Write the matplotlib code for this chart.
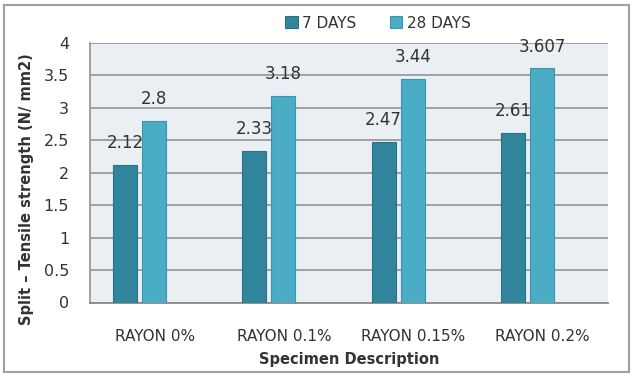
import matplotlib
matplotlib.use("Agg")
import matplotlib.pyplot as plt
from matplotlib.patches import Rectangle
import numpy as np

categories = ["RAYON 0%", "RAYON 0.1%", "RAYON 0.15%", "RAYON 0.2%"]
days7 = [2.12, 2.33, 2.47, 2.61]
days28 = [2.8, 3.18, 3.44, 3.607]
labels7 = ["2.12", "2.33", "2.47", "2.61"]
labels28 = ["2.8", "3.18", "3.44", "3.607"]
yticks = [0, 0.5, 1, 1.5, 2, 2.5, 3, 3.5, 4]
ytick_labels = ["0", "0.5", "1", "1.5", "2", "2.5", "3", "3.5", "4"]

c7 = "#31859C"
c28 = "#4BACC6"

fig = plt.figure(figsize=(6.33, 3.76), dpi=100)
ax = fig.add_axes([90/633, 1-302.5/376, (608-90)/633, (302.5-43)/376])
ax.set_facecolor("#E9EFF3")

x = np.arange(len(categories))
w = 0.185
gap = 0.04
b1 = ax.bar(x - (w+gap)/2, days7, w, color=c7, edgecolor="#2A7286", linewidth=0.8, label="7 DAYS", zorder=3)
b2 = ax.bar(x + (w+gap)/2, days28, w, color=c28, edgecolor="#3A95AD", linewidth=0.8, label="28 DAYS", zorder=3)

for xi, v, t in zip(x - (w+gap)/2, days7, labels7):
    ax.text(xi, v + 0.2, t, ha="center", va="bottom", fontsize=12, color="#333333", zorder=4)
for xi, v, t in zip(x + (w+gap)/2, days28, labels28):
    ax.text(xi, v + 0.2, t, ha="center", va="bottom", fontsize=12, color="#333333", zorder=4)

ax.set_xlim(-0.383, 3.623)
ax.set_ylim(0, 4)
ax.set_yticks(yticks)
ax.set_yticklabels(ytick_labels, fontsize=11.5, color="#333333")
ax.yaxis.grid(True, color="#9A9A9A", linewidth=1.3, zorder=1)
ax.set_axisbelow(True)
ax.tick_params(axis="y", length=0, pad=15)
ax.set_xticks(x + 0.118)
ax.set_xticklabels(categories, fontsize=11, color="#333333")
ax.tick_params(axis="x", length=0, pad=19)
for s in ["top", "right"]:
    ax.spines[s].set_visible(False)
ax.spines["left"].set_color("#9A9A9A")
ax.spines["left"].set_linewidth(1.3)
ax.spines["bottom"].set_color("#8A8A8A")
ax.spines["bottom"].set_linewidth(1.3)

ax.set_xlabel("Specimen Description", fontsize=10.5, fontweight="bold", color="#333333", labelpad=6)
ax.set_ylabel("Split \u2013 Tensile strength (N/ mm2)", fontsize=10.5, fontweight="bold", color="#333333")
ax.yaxis.set_label_coords(-0.108, 0.437)

leg = fig.legend(handles=[b1, b2], labels=["7 DAYS", "28 DAYS"], loc="center", bbox_to_anchor=(378/633, 1-23/376),
                 ncol=2, frameon=False, fontsize=11, handlelength=0.8, handleheight=0.8, columnspacing=2.2, handletextpad=0.3)
for t in leg.get_texts():
    t.set_color("#333333")

fig.patches.append(Rectangle((4/633, 4/376), 625/633, 367/376, transform=fig.transFigure,
                             fill=False, edgecolor="#A0A0A0", linewidth=1.5))

fig.savefig("out.png", dpi=100)
